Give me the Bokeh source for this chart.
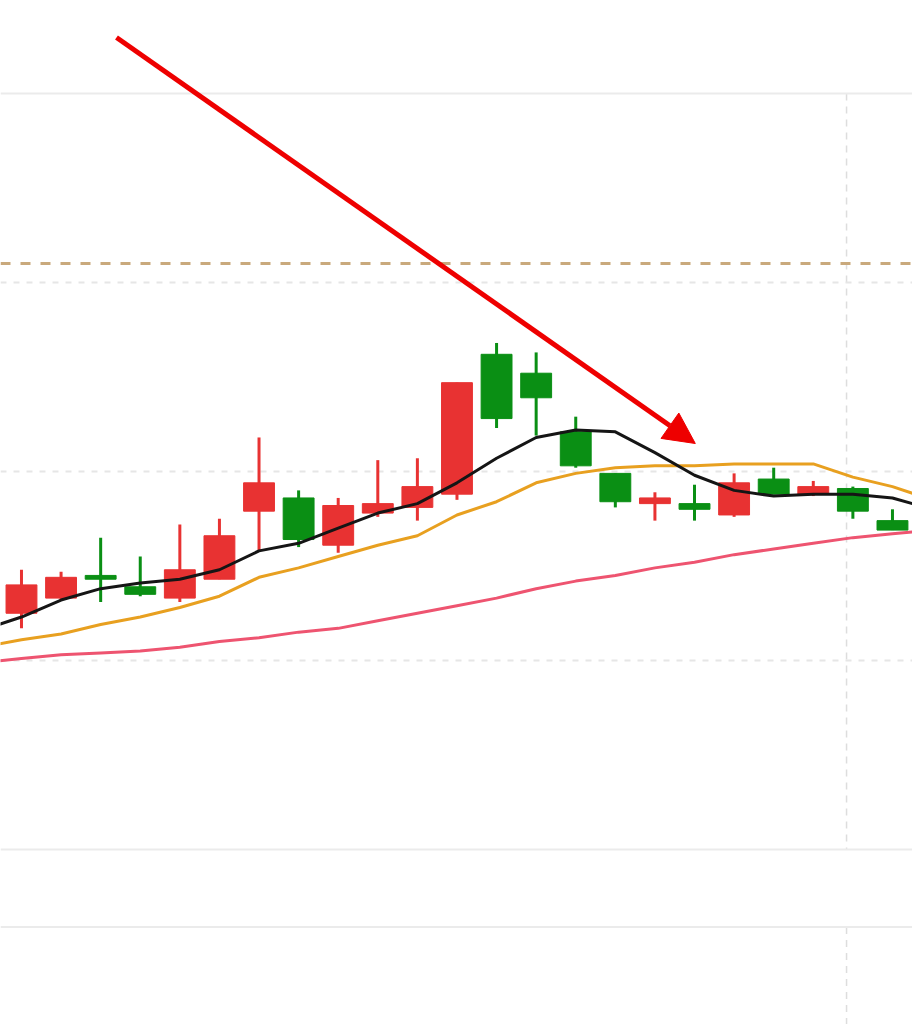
from bokeh.plotting import figure
from bokeh.models import ColumnDataSource, Range1d, Span, Arrow, NormalHead
from bokeh.embed import file_html
from bokeh.resources import INLINE

# ---- data (price units; red = close >= open, green = close < open) ----
idx    = list(range(23))
open_  = [12.25, 12.33, 12.45, 12.39, 12.33, 12.43, 12.79, 12.86, 12.61, 12.78, 12.81, 12.88,
          13.62, 13.52, 13.21, 12.99, 12.83, 12.83, 12.77, 12.96, 12.88, 12.91, 12.74]
close_ = [12.40, 12.44, 12.43, 12.35, 12.48, 12.66, 12.94, 12.64, 12.82, 12.83, 12.92, 13.47,
          13.28, 13.39, 13.03, 12.84, 12.86, 12.80, 12.94, 12.88, 12.92, 12.79, 12.69]
high_  = [12.48, 12.47, 12.65, 12.55, 12.72, 12.75, 13.18, 12.90, 12.86, 13.06, 13.07, 13.47,
          13.68, 13.63, 13.29, 12.99, 12.89, 12.93, 12.99, 13.02, 12.95, 12.92, 12.80]
low_   = [12.17, 12.32, 12.31, 12.34, 12.31, 12.43, 12.58, 12.60, 12.57, 12.76, 12.74, 12.85,
          13.23, 13.19, 13.02, 12.81, 12.74, 12.74, 12.76, 12.88, 12.87, 12.75, 12.69]

ma_idx = list(range(-1, 24))
ma5  = [12.16, 12.23, 12.32, 12.38, 12.41, 12.43, 12.48, 12.58, 12.62, 12.70, 12.78, 12.83, 12.94,
        13.07, 13.18, 13.22, 13.21, 13.10, 12.98, 12.90, 12.87, 12.88, 12.88, 12.86, 12.80]
ma10 = [12.07, 12.11, 12.14, 12.19, 12.23, 12.28, 12.34, 12.44, 12.49, 12.55, 12.61, 12.66, 12.77,
        12.84, 12.94, 12.99, 13.02, 13.03, 13.03, 13.04, 13.04, 13.04, 12.97, 12.92, 12.85]
ma20 = [11.99, 12.01, 12.03, 12.04, 12.05, 12.07, 12.10, 12.12, 12.15, 12.17, 12.21, 12.25, 12.29,
        12.33, 12.38, 12.42, 12.45, 12.49, 12.52, 12.56, 12.59, 12.62, 12.65, 12.67, 12.69]

grid_levels = [14.0, 13.0, 12.0]
pane_lines = [15.0, 11.0, 10.59]
ref_level = 14.10
time_grid_x = 20.84

RED = "#e83232"
GREEN = "#0a8f14"

colors = [RED if c >= o else GREEN for o, c in zip(open_, close_)]
src = ColumnDataSource(dict(
    x=idx, top=[max(o, c) for o, c in zip(open_, close_)],
    bottom=[min(o, c) for o, c in zip(open_, close_)],
    high=high_, low=low_, color=colors))

p = figure(width=912, height=1024, output_backend="svg", toolbar_location=None,
           x_range=Range1d(-0.530, 22.506), y_range=Range1d(10.074, 15.492),
           min_border=0, min_border_left=0, min_border_right=0,
           min_border_top=0, min_border_bottom=0)
p.axis.visible = False
p.xgrid.visible = False
p.ygrid.visible = False
p.outline_line_color = None
p.background_fill_color = "white"
p.border_fill_color = "white"

# pane border lines
for lv in pane_lines:
    p.add_layout(Span(location=lv, dimension="width", line_color="#ebebeb", line_width=2,
                      level="underlay"))
# dotted grid lines
for lv in grid_levels:
    p.add_layout(Span(location=lv, dimension="width", line_color="#e6e6e6",
                      line_width=2, line_dash="6 7", level="underlay"))
# vertical time grid line (dashed) in both panes
p.segment(x0=[time_grid_x, time_grid_x], y0=[pane_lines[0], pane_lines[2]],
          x1=[time_grid_x, time_grid_x], y1=[pane_lines[1], 10.0],
          line_color="#dddddd", line_width=1.5, line_dash="7 6", level="underlay")
# reference dashed line
p.add_layout(Span(location=ref_level, dimension="width", line_color="#c9a97c",
                  line_width=3, line_dash="10 10", level="underlay"))

# moving averages
p.line(ma_idx, ma20, line_color="#ee5470", line_width=3, line_join="round")
p.line(ma_idx, ma10, line_color="#e8a020", line_width=3, line_join="round")

# candles
p.segment(x0="x", y0="high", x1="x", y1="low", source=src, line_color="color", line_width=3)
p.vbar(x="x", top="top", bottom="bottom", width=0.78, source=src,
       fill_color="color", line_color="color", line_width=1)

p.line(ma_idx, ma5, line_color="#151515", line_width=3, line_join="round")

# red arrow annotation
p.add_layout(Arrow(x_start=2.40, y_start=15.296, x_end=17.02, y_end=13.148,
                   line_color="#ee0000", line_width=5,
                   end=NormalHead(size=31, fill_color="#ee0000", line_color="#ee0000",
                                  line_width=1)))

open("out.html", "w").write(file_html(p, INLINE))
